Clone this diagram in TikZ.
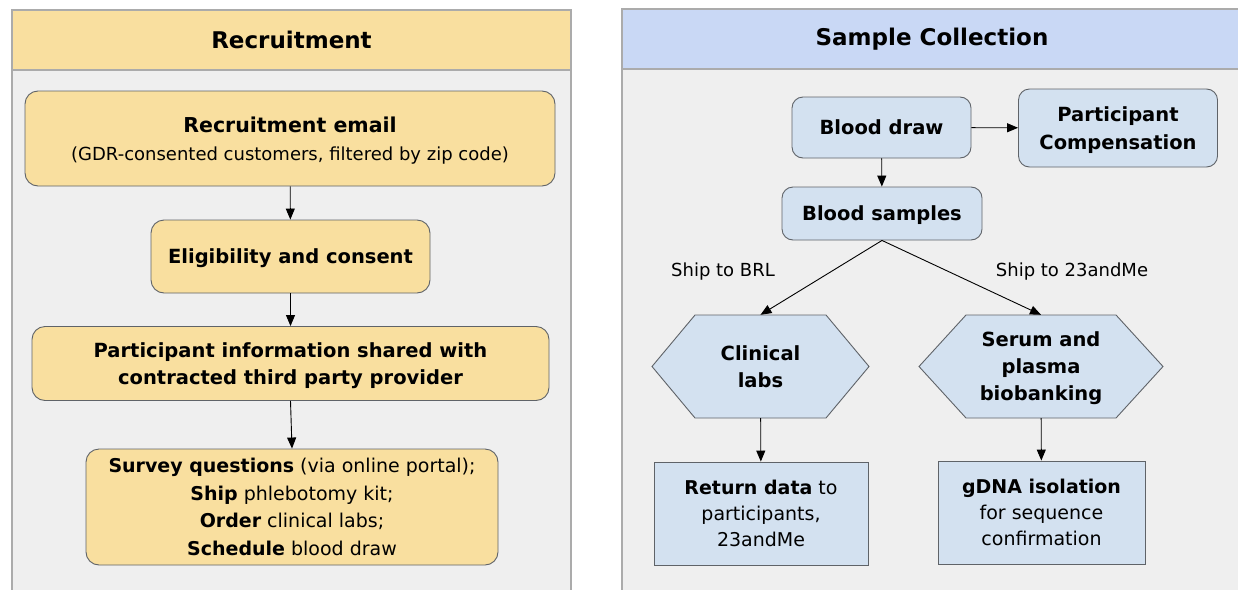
\documentclass[tikz,border=0pt]{standalone}
\usepackage{fontspec}
\setmainfont{DejaVu Sans}
\usepackage{xcolor}
\usetikzlibrary{arrows.meta, positioning, calc}

\definecolor{recyellow}{HTML}{F9DF9F}
\definecolor{colhead}{HTML}{C9D8F5}
\definecolor{colbox}{HTML}{D3E1F0}
\definecolor{panelgray}{HTML}{EFEFEF}
\definecolor{panelline}{HTML}{ABABAB}
\definecolor{boxline}{HTML}{5F6368}

\tikzset{
    panel/.style={draw=panelline, line width=1.2pt, fill=panelgray},
    headbar/.style={draw=panelline, line width=1.2pt},
    header/.style={inner sep=0pt, font=\bfseries\fontsize{23}{28}\selectfont},
    ybox/.style={draw=boxline, fill=recyellow, line width=0.9pt, rounded corners=13pt,
        align=center, inner sep=0pt, text depth=0pt, font=\fontsize{19}{27.5}\selectfont},
    bbox/.style={draw=boxline, fill=colbox, line width=0.9pt, rounded corners=11pt,
        align=center, inner sep=0pt, text depth=0pt, font=\bfseries\fontsize{19.5}{28}\selectfont},
    hexline/.style={draw=boxline, fill=colbox, line width=0.9pt},
    hexa/.style={align=center, inner sep=0pt, text depth=0pt, font=\bfseries\fontsize{19.5}{27}\selectfont},
    sbox/.style={draw=boxline, fill=colbox, line width=0.9pt,
        align=center, inner sep=0pt, text depth=0pt, font=\fontsize{19}{26}\selectfont},
    lbl/.style={font=\fontsize{18}{22}\selectfont},
    flow/.style={-{Triangle[length=11pt, width=9pt]}, line width=0.9pt}
}

\begin{document}
\begin{tikzpicture}[x=1pt, y=-1pt]
    \useasboundingbox (0,0) rectangle (1238,589);
    \fill[white] (0,0) rectangle (1238,589);

    % Recruitment panel
    \draw[panel] (12,70) rectangle (571,600);
    \draw[headbar, fill=recyellow] (12,10) rectangle (571,70);
    \node[header] (rechead) at (291.5,40) {Recruitment};

    \node[ybox, minimum width=530pt, minimum height=95pt] (email) at (290,138.5)
        {\textbf{\fontsize{20.5}{27.5}\selectfont Recruitment email}\\{\fontsize{18}{27.5}\selectfont(GDR-consented customers, filtered by zip code)}};
    \node[ybox, font=\bfseries\fontsize{19.5}{27.5}\selectfont, minimum width=279pt, minimum height=73pt] (elig) at (290.5,256.5)
        {Eligibility and consent};
    \node[ybox, font=\bfseries\fontsize{19.5}{27.5}\selectfont, minimum width=517pt, minimum height=74pt] (info) at (290.5,363.5)
        {Participant information shared with\\contracted third party provider};
    \node[ybox, minimum width=412pt, minimum height=116pt] (survey) at (292,507)
        {\textbf{Survey questions} (via online portal);\\\textbf{Ship} phlebotomy kit;\\\textbf{Order} clinical labs;\\\textbf{Schedule} blood draw};

    \draw[flow] (email) -- (elig);
    \draw[flow] (elig) -- (info);
    \draw[flow] (info.south) -- (survey.north);

    % Sample collection panel
    \draw[panel] (622,69) rectangle (1250,600);
    \draw[headbar, fill=colhead] (622,9) rectangle (1250,69);
    \node[header] (samhead) at (932,39) {Sample Collection};

    \node[bbox, minimum width=179pt, minimum height=61pt] (draw) at (881.5,127.5)
        {Blood draw};
    \node[bbox, minimum width=199pt, minimum height=78pt] (comp) at (1118,128)
        {Participant\\Compensation};
    \node[bbox, minimum width=200pt, minimum height=53pt] (samples) at (882,213.5)
        {Blood samples};

    % hexagons
    \coordinate (clinc) at (760.5,366.5);
    \coordinate (serumc) at (1041,366.5);
    \draw[hexline] ($(clinc)+(-108.5,0)$) -- ++(43,-51.5) -- ++(131,0) -- ++(43,51.5)
        -- ++(-43,51.5) -- ++(-131,0) -- cycle;
    \draw[hexline] ($(serumc)+(-122,0)$) -- ++(47,-51.5) -- ++(150,0) -- ++(47,51.5)
        -- ++(-47,51.5) -- ++(-150,0) -- cycle;
    \node[hexa, minimum width=217pt, minimum height=103pt] (clin) at (clinc)
        {Clinical\\labs};
    \node[hexa, minimum width=244pt, minimum height=103pt] (serum) at (serumc)
        {Serum and\\plasma\\biobanking};

    \node[sbox, minimum width=214pt, minimum height=103pt] (ret) at (761,513.5)
        {\textbf{Return data} to\\participants,\\23andMe};
    \node[sbox, minimum width=207pt, minimum height=103pt] (gdna) at (1041.5,512.5)
        {\textbf{gDNA isolation}\\for sequence\\confirmation};

    \node[lbl] (brl) at (723,272) {Ship to BRL};
    \node[lbl] (tome) at (1072,272) {Ship to 23andMe};

    \draw[flow] (draw) -- (samples);
    \draw[flow] (draw) -- (comp);
    \draw[flow] (samples.south) -- (clin.north);
    \draw[flow] (samples.south) -- (serum.north);
    \draw[flow] (clin) -- (ret);
    \draw[flow] (serum) -- (gdna);
\end{tikzpicture}
\end{document}
